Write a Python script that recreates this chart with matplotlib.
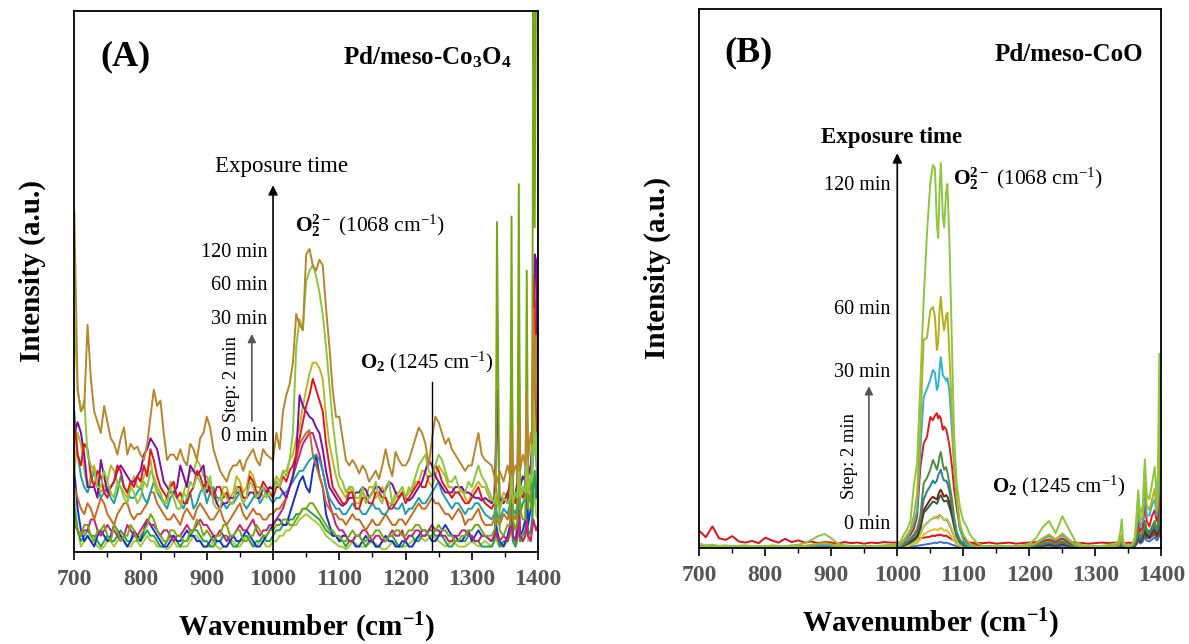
import matplotlib
matplotlib.use("Agg")
import matplotlib.pyplot as plt
from matplotlib.ticker import MultipleLocator

plt.rcParams['font.family'] = ['Liberation Serif', 'DejaVu Serif']
plt.rcParams['mathtext.fontset'] = 'custom'
plt.rcParams['mathtext.rm'] = 'Liberation Serif'
plt.rcParams['mathtext.bf'] = 'Liberation Serif:bold'
plt.rcParams['mathtext.it'] = 'Liberation Serif:italic'

# -------------------------
# PANEL A DATA (Pd/meso-Co3O4), intensity in a.u. (0-100)
# -------------------------
wn_a = list(range(700, 1325, 5)) + [1330, 1334, 1336, 1338, 1342, 1348, 1354, 1358, 1360, 1362, 1366, 1369,
                                     1371, 1373, 1377, 1381, 1383, 1385, 1389, 1391, 1393, 1395, 1397, 1400]

a_brown = [63, 30, 26, 27, 42, 32, 26, 24, 22, 27, 24, 21, 20, 18, 21, 23, 18, 20, 19, 19.5,
           18, 17, 20, 25, 30, 27, 28, 22, 17, 18, 18, 17, 19, 17, 16, 20, 19, 17, 21, 22,
           25, 23, 19, 17, 15, 14, 13, 15, 16, 16, 17, 15, 17, 18, 19, 17, 16, 19, 18, 17.5,
           17, 22, 19, 26, 29, 31, 35, 44, 42, 41, 55, 56, 53, 52, 54, 53, 45, 38, 30, 25,
           25, 21, 17, 16, 17, 16, 14.5, 16, 15, 13, 14, 15, 13.5, 16, 19, 16, 14, 18.5, 17, 16,
           16, 17, 19, 21, 23, 22, 20, 16, 21, 25, 24, 22, 20, 21, 19, 18, 17, 16, 15, 16,
           16, 19, 22, 18, 17,
           16, 14, 12, 13, 15, 13, 16, 14, 22, 14, 16, 15, 24, 15, 18, 16, 30, 17, 22, 20, 45, 28, 40, 20]
a_green60 = [44, 30, 26, 28, 18, 16, 15, 12, 12, 15, 13, 11, 10, 13, 12, 10, 9, 12, 11, 9,
             10, 13, 12, 15, 14, 12, 11, 9, 9, 12, 10, 8, 8, 11, 10, 13, 12, 14, 13, 11,
             12, 14, 9, 8, 8, 11, 10, 9, 9, 12, 11, 9, 10, 13, 12, 10, 11, 12, 10, 11,
             11, 13, 12, 15, 14, 17, 22, 38, 43, 41, 50, 52, 53, 51, 48, 44, 38, 31, 24, 19,
             14, 13, 11, 12, 12, 10, 10, 12, 9, 10, 11, 13, 10, 9, 12, 13, 9, 10, 11, 12,
             10, 11, 12, 14, 16, 17, 18, 15, 14, 16, 18, 17, 15, 13, 13, 14, 12, 11, 11, 13,
             12, 14, 16, 14, 13,
             10, 9, 11, 9, 8, 10, 9, 10, 14, 9, 11, 10, 16, 10, 12, 11, 20, 11, 14, 13, 30, 18, 22, 12]
a_spiky = [6, 4, 3, 5, 5, 3, 2, 4, 4, 5, 3, 2, 5, 4, 2, 3, 3, 5, 4, 2,
           3, 4, 5, 7, 6, 4, 3, 2, 2, 4, 4, 3, 3, 2, 2, 4, 4, 6, 5, 3,
           4, 3, 2, 3, 3, 5, 5, 3, 3, 4, 4, 2, 2, 3, 3, 5, 4, 3, 3, 4,
           4, 5, 5, 6, 6, 5, 5, 6, 7, 8, 8, 9, 9, 8, 7, 6, 5, 4, 4, 3,
           3, 2, 2, 3, 4, 3, 3, 2, 2, 3, 3, 4, 4, 3, 2, 3, 3, 4, 4, 3,
           3, 4, 4, 5, 5, 4, 4, 3, 3, 4, 5, 4, 4, 3, 3, 2, 2, 3, 3, 4,
           4, 5, 5, 4, 3,
           3, 4, 5, 61, 4, 3, 5, 5, 62, 6, 4, 6, 68, 8, 6, 6, 52, 8, 8, 20, 105, 60, 105, 105]
a_olive = [14, 22, 20, 15, 12, 14, 16, 13, 11, 12, 13, 16, 15, 13, 12, 11, 10, 12, 14, 12,
           12, 14, 15, 17, 13, 11, 11, 9, 10, 13, 12, 10, 9, 11, 13, 15, 15, 17, 16, 14,
           14, 12, 11, 9, 10, 12, 12, 10, 11, 14, 13, 11, 12, 15, 14, 12, 12, 10, 11, 12,
           12, 14, 13, 15, 15, 17, 18, 21, 23, 27, 30, 33, 35, 35, 34, 32, 25, 20, 17, 14,
           12, 11, 10, 12, 11, 9, 9, 11, 10, 12, 12, 10, 11, 12, 10, 9, 9, 11, 11, 12,
           10, 12, 11, 13, 13, 15, 15, 13, 12, 14, 16, 15, 14, 12, 12, 11, 11, 12, 10, 9,
           11, 12, 13, 12, 12,
           9, 10, 14, 10, 9, 11, 10, 12, 26, 11, 10, 12, 28, 12, 11, 13, 26, 12, 14, 16, 38, 20, 30, 14]
a_red = [24, 18, 16, 20, 19, 14, 12, 15, 14, 11, 10, 12, 13, 16, 15, 12, 11, 13, 12, 14,
         13, 16, 14, 19, 17, 14, 12, 11, 10, 12, 13, 10, 11, 9, 9, 11, 12, 15, 14, 12,
         13, 11, 10, 12, 12, 10, 11, 9, 9, 12, 12, 10, 10, 14, 13, 11, 11, 13, 12, 11,
         10, 12, 12, 14, 13, 15, 16, 18, 21, 24, 27, 29, 32, 30, 28, 26, 20, 16, 12, 11,
         10, 9, 9, 11, 11, 8, 8, 10, 10, 9, 9, 11, 11, 10, 10, 8, 8, 9, 10, 11,
         9, 10, 11, 12, 13, 12, 12, 14, 14, 16, 15, 13, 12, 11, 10, 11, 11, 10, 9, 9,
         10, 11, 12, 10, 9,
         8, 9, 12, 9, 8, 10, 9, 14, 39, 10, 9, 12, 40, 11, 10, 12, 20, 11, 13, 16, 51, 46, 30, 12]
a_purple = [22, 24, 22, 18, 12, 12, 12, 10, 17, 14, 11, 12, 13, 15, 16, 15, 14, 13, 13, 14,
            15, 18, 19, 21, 20, 19, 16, 13, 12, 11, 11, 12, 16, 14, 12, 16, 15, 14, 15, 16,
            11, 12, 11, 9, 8, 9, 9, 10, 10, 11, 11, 10, 10, 11, 11, 10, 10, 12, 11, 12,
            11.5, 13, 12, 11, 10, 12, 14, 18, 29, 27, 26, 25, 24.5, 23, 22, 19, 15, 12, 11, 10,
            9, 8.5, 9, 10, 10, 11, 11, 12, 11.5, 10, 11, 12, 12, 11, 11.5, 13, 12.5, 11, 10, 11,
            10, 9.5, 10, 11, 12, 13, 15, 17, 16, 14, 13, 12, 11, 11, 11, 12, 12, 12, 11, 11,
            10.5, 10, 10, 9.5, 10,
            9, 10, 18, 30, 10, 9, 11, 12, 24, 10, 11, 13, 22, 12, 14, 13, 28, 14, 16, 20, 40, 55, 54, 20]
a_magenta = [5, 4, 3, 4, 4, 6, 6, 4, 3, 4, 5, 4, 4, 3, 2, 3, 5, 4, 3, 3,
             4, 5, 6, 5, 5, 4, 3, 4, 4, 3, 2, 3, 3, 4, 5, 4, 4, 5, 6, 5,
             5, 4, 3, 3, 4, 3, 2, 3, 3, 4, 5, 4, 4, 5, 6, 4, 3, 4, 4, 5,
             5, 6, 7, 8, 10, 12, 14, 16, 18, 20, 21, 22, 22, 20, 18, 15, 12, 9, 7, 5,
             4, 4, 3, 2, 2, 3, 3, 4, 4, 3, 2, 3, 3, 2, 2, 3, 4, 3, 3, 4,
             2, 3, 3, 4, 4, 3, 3, 4, 5, 4, 4, 3, 3, 2, 2, 3, 3, 4, 4, 3,
             3, 2, 2, 3, 3,
             2, 3, 4, 3, 2, 3, 2, 4, 8, 3, 2, 3, 7, 3, 2, 3, 6, 3, 2, 4, 6, 5, 4, 5]
a_teal = [26, 18, 14, 12, 11, 13, 15, 12, 10, 11, 12, 10, 9, 11, 14, 12, 11, 10, 10, 11,
          12, 10, 9, 11, 13, 11, 10, 9, 8, 10, 11, 10, 9, 8, 10, 11, 8, 9, 11, 12,
          9, 11, 12, 10, 10, 9, 8, 9, 9, 10, 11, 9, 8, 9, 10, 11, 9, 10, 11, 10,
          9, 10, 10, 11, 11, 12, 13, 14, 15, 15, 16, 17, 17.5, 18, 17, 15, 12, 10, 9, 8,
          8, 7, 7, 8, 9, 8, 8, 7, 7, 8, 9, 8, 8, 7, 7, 8, 9, 8, 8, 9,
          7, 8, 8, 9, 10, 9, 9, 10, 11, 12, 13, 11, 10, 9, 8, 9, 9, 8, 7, 8,
          8, 9, 9, 8, 7,
          6, 7, 9, 7, 6, 8, 7, 9, 18, 8, 7, 9, 16, 8, 9, 10, 18, 9, 10, 14, 30, 36, 20, 10]
a_blue = [15, 8, 4, 2, 3, 2, 1, 3, 4, 3, 2, 3, 5, 4, 3, 2, 1, 2, 4, 3,
          2, 4, 6, 5, 4, 3, 2, 1, 1, 2, 3, 2, 2, 3, 4, 3, 3, 2, 2, 1,
          1, 2, 3, 2, 2, 1, 1, 2, 3, 2, 2, 3, 4, 3, 2, 1, 1, 2, 3, 4,
          5, 6, 6, 5, 5, 7, 9, 11, 13, 14, 12, 11, 15, 18, 14, 12, 7, 5, 3, 3,
          2, 3, 3, 2, 2, 1, 1, 2, 3, 2, 2, 1, 1, 2, 3, 2, 2, 1, 1, 2,
          2, 1, 1, 2, 3, 4, 4, 3, 2, 2, 3, 4, 5, 4, 3, 3, 2, 2, 3, 4,
          2, 3, 4, 3, 3,
          2, 3, 6, 4, 2, 1, 3, 5, 12, 3, 2, 5, 10, 3, 4, 6, 16, 5, 8, 14, 24, 29, 20, 8]
a_orange = [12, 10, 8, 7, 9, 8, 6, 8, 10, 9, 7, 6, 5, 7, 8, 9, 9, 7, 6, 7,
            7, 8, 9, 11, 11, 9, 8, 7, 6, 6, 7, 6, 5, 7, 8, 7, 6, 8, 9, 8,
            7, 6, 6, 7, 8, 6, 5, 6, 7, 8, 9, 7, 6, 7, 8, 7, 7, 6, 6, 7,
            7, 8, 8, 9, 10, 12, 14, 17, 20, 21, 22, 22.5, 18, 16, 14, 12, 9, 8, 7, 7,
            6, 6, 5, 6, 7, 6, 6, 5, 4, 5, 6, 5, 5, 6, 7, 6, 5, 5, 6, 6,
            5, 6, 7, 8, 9, 8, 8, 9, 10, 9, 9, 8, 7, 7, 6, 7, 8, 7, 5, 6,
            6, 7, 8, 6, 5,
            5, 6, 8, 6, 5, 7, 6, 8, 16, 7, 6, 8, 20, 7, 9, 10, 22, 9, 11, 15, 35, 30, 25, 10]
a_green = [8, 4, 2, 3, 4, 3, 3, 2, 1, 2, 3, 2, 2, 3, 4, 3, 2, 2, 3, 3,
           2, 3, 4, 3, 3, 2, 1, 1, 2, 3, 3, 2, 1, 2, 2, 3, 4, 4, 3, 2,
           2, 1, 1, 2, 2, 3, 3, 2, 1, 1, 2, 3, 3, 2, 1, 2, 2, 3, 2, 2,
           3, 4, 4, 5, 5, 6, 6, 7, 7, 8, 8, 7.5, 7, 6.5, 6, 5, 4, 3.5, 3, 3,
           2, 2, 1, 2, 2, 3, 3, 2, 1, 2, 2, 1, 1, 2, 2, 3, 3, 2, 1, 1,
           2, 3, 3, 2, 2, 3, 3, 4, 4, 3, 3, 3, 2, 1, 1, 2, 2, 2, 2, 3,
           3, 2, 2, 1, 1,
           1, 2, 5, 3, 1, 2, 2, 4, 9, 2, 1, 3, 8, 2, 3, 4, 9, 3, 4, 6, 12, 15, 10, 14]
a_lime = [10, 4, 1, 2, 3, 2, 2, 1, 0.5, 1, 2, 2, 1, 2, 3, 2, 1, 1, 2, 2,
          1, 2, 3, 2, 2, 1, 1, 1, 0.5, 1, 2, 1, 1, 1, 1, 2, 3, 3, 2, 1,
          1, 1, 2, 1, 0.5, 1, 1, 2, 2, 1, 1, 2, 3, 2, 1, 1, 2, 2, 1, 1,
          2, 2, 3, 3, 4, 4, 5, 5, 6, 6.5, 7, 6.5, 6, 5.5, 5, 4, 3, 2.5, 2, 1.5,
          1, 1, 0.5, 1, 2, 1.5, 1, 1, 1, 1.5, 2, 1.5, 1, 0.5, 0.5, 1, 2, 1.5, 1, 1,
          1, 1.5, 2, 2.5, 3, 2.5, 2, 2.5, 3, 2.5, 2, 1.5, 1, 1.5, 2, 1.5, 1, 1, 1, 1.5,
          2, 1.5, 1, 1.5, 2,
          1, 2, 3, 2, 1, 1, 2, 3, 6, 2, 1, 2, 5, 2, 2, 3, 7, 2, 3, 5, 9, 11, 7, 6]

# -------------------------
# PANEL B DATA (Pd/meso-CoO)
# -------------------------
wn_b = (list(range(700, 1000, 10))
        + [1000, 1005, 1010, 1015, 1020, 1025, 1030, 1035, 1040, 1045, 1050, 1054, 1057, 1060, 1062,
           1064, 1066, 1069, 1071, 1074, 1076, 1079, 1083, 1086, 1090, 1095, 1100, 1105, 1110, 1120]
        + list(range(1130, 1340, 10))
        + [1335, 1338, 1340, 1342, 1346, 1350, 1355, 1360, 1363, 1365, 1368, 1372, 1375, 1378, 1382,
           1386, 1390, 1393, 1395, 1397, 1400])

b_red_noisy = ([3.2, 2, 4, 1.8, 1.5, 2.2, 1.2, 1.0, 1.3, 0.9, 1.9, 1.4, 1.0, 1.7, 1.1, 1.4, 1.0, 1.2, 0.9, 1.1,
                1.0, 0.8, 1.1, 0.9, 1.0, 0.8, 1.0, 0.9, 1.1, 1.0]
               + [1.0, 1.1, 1.0, 1.2, 1.3, 1.5, 1.6, 1.8, 1.9, 2.0, 2.1, 2.3, 2.2, 2.4, 2.3, 2.5, 2.4, 2.3, 2.2,
                  2.3, 2.1, 1.9, 1.6, 1.4, 1.2, 1.0, 1.1, 0.9, 1.0, 0.9]
               + [0.9, 1.0, 0.8, 0.9, 1.0, 0.8, 0.9, 1.0, 1.1, 1.3, 1.4, 1.2, 1.5, 1.2, 1.0, 0.9, 0.8, 0.9, 1.0,
                  0.9, 1.0]
               + [1.0, 1.2, 1.5, 1.0, 0.9, 1.0, 0.9, 1.1, 1.5, 2, 1.5, 1.8, 2.5, 2, 1.8, 2.2, 2.5, 2, 2.2, 3, 2])
b_blue = ([0.1, 0.1, 0.1, 0.1, 0.1, 0.1, 0.1, 0.1, 0.1, 0.1, 0.1, 0.1, 0.1, 0.1, 0.1, 0.1, 0.1, 0.2, 0.2, 0.2,
           0.1, 0.1, 0.1, 0.1, 0.1, 0.1, 0.1, 0.1, 0.1, 0.1]
          + [0.1, 0.1, 0.2, 0.2, 0.3, 0.3, 0.4, 0.5, 0.6, 0.7, 0.8, 0.9, 1.0, 0.9, 1.0, 1.1, 1.1, 1.0, 0.9, 1.0,
             0.9, 0.8, 0.6, 0.5, 0.3, 0.2, 0.1, 0.1, 0.1, 0.1]
          + [0.1, 0.1, 0.1, 0.1, 0.1, 0.1, 0.1, 0.1, 0.2, 0.3, 0.4, 0.3, 0.4, 0.3, 0.1, 0.1, 0.1, 0.1, 0.1, 0.1, 0.1]
          + [0.2, 0.3, 0.5, 0.2, 0.1, 0.1, 0.1, 0.3, 0.8, 1.5, 0.8, 1.2, 2, 1.4, 1.2, 1.6, 2, 1.4, 1.6, 3, 1.5])
b_yellow = ([0.1, 0.2, 0.1, 0.1, 0.2, 0.1, 0.1, 0.2, 0.1, 0.1, 0.2, 0.1, 0.1, 0.2, 0.1, 0.1, 0.2, 0.3, 0.4, 0.4,
             0.3, 0.2, 0.1, 0.1, 0.2, 0.1, 0.1, 0.2, 0.1, 0.1]
            + [0.1, 0.2, 0.2, 0.3, 0.5, 0.7, 0.9, 1.6, 2.5, 2.9, 3.2, 3.4, 3.5, 3.4, 3.3, 3.6, 3.7, 3.5, 3.2,
               3.3, 3.2, 2.7, 1.9, 1.3, 0.7, 0.4, 0.2, 0.2, 0.1, 0.1]
            + [0.1, 0.1, 0.1, 0.2, 0.1, 0.1, 0.1, 0.2, 0.5, 0.9, 1.3, 0.9, 1.4, 0.8, 0.3, 0.1, 0.1, 0.1, 0.1, 0.2,
               0.2]
            + [0.3, 0.6, 1, 0.3, 0.2, 0.1, 0.2, 0.6, 1.8, 3.2, 1.8, 2.6, 4.5, 3, 2.5, 3.4, 4, 2.8, 3.5, 7, 3.5])
b_red_small = ([0.3, 0.2, 0.3, 0.2, 0.3, 0.2, 0.2, 0.3, 0.2, 0.2, 0.3, 0.2, 0.3, 0.2, 0.2, 0.3, 0.2, 0.3, 0.3,
                0.4, 0.3, 0.2, 0.3, 0.2, 0.2, 0.3, 0.2, 0.3, 0.2, 0.3]
               + [0.2, 0.3, 0.4, 0.6, 0.8, 1.1, 1.5, 2.6, 4, 4.6, 5.2, 5.5, 5.6, 5.8, 5.6, 6.1, 6, 5.5, 5.2, 5.3,
                  5, 4.3, 3.1, 2.2, 1.2, 0.7, 0.4, 0.3, 0.2, 0.2]
               + [0.2, 0.3, 0.2, 0.2, 0.3, 0.2, 0.3, 0.4, 0.6, 0.9, 1.2, 0.8, 1.3, 0.8, 0.4, 0.3, 0.2, 0.2, 0.3,
                  0.2, 0.3]
               + [0.4, 0.8, 1.2, 0.4, 0.3, 0.2, 0.3, 0.7, 2, 3.5, 2, 2.8, 5, 3.2, 2.8, 3.8, 4.5, 3, 4, 8, 4])
b_lgreen_small = ([0.2, 0.1, 0.2, 0.1, 0.1, 0.2, 0.1, 0.2, 0.1, 0.1, 0.2, 0.1, 0.1, 0.2, 0.1, 0.2, 0.3, 0.5, 0.7,
                   0.8, 0.5, 0.3, 0.2, 0.1, 0.2, 0.1, 0.1, 0.2, 0.1, 0.2]
                  + [0.1, 0.2, 0.3, 0.5, 0.7, 1, 1.4, 2.5, 4, 4.6, 5.2, 5.6, 5.8, 5.5, 5.4, 5.8, 6, 5.6, 5.2,
                     5.4, 5.3, 4.6, 3.4, 2.4, 1.3, 0.7, 0.4, 0.2, 0.1, 0.1]
                  + [0.1, 0.1, 0.2, 0.1, 0.1, 0.1, 0.2, 0.3, 0.6, 1.0, 1.4, 0.9, 1.6, 0.9, 0.4, 0.2, 0.1, 0.1,
                     0.2, 0.1, 0.2]
                  + [0.3, 0.6, 1.0, 0.3, 0.2, 0.1, 0.2, 0.5, 1.2, 2.4, 1.2, 1.8, 3.2, 2.2, 1.8, 2.5, 3, 2, 2.5, 5,
                     2.5])
b_slate = ([0.1, 0.1, 0.2, 0.1, 0.1, 0.2, 0.1, 0.1, 0.2, 0.1, 0.1, 0.2, 0.1, 0.1, 0.2, 0.1, 0.1, 0.2, 0.2, 0.3,
            0.2, 0.1, 0.1, 0.2, 0.1, 0.1, 0.2, 0.1, 0.1, 0.2]
           + [0.1, 0.2, 0.4, 0.7, 1, 1.4, 2, 3.5, 6.5, 7.2, 8, 8.6, 8.5, 8.2, 8.8, 9.5, 9.8, 9, 8.6, 8.8,
              8.6, 7.6, 5.8, 4, 2.2, 1, 0.5, 0.3, 0.2, 0.1]
           + [0.1, 0.1, 0.1, 0.1, 0.2, 0.1, 0.1, 0.2, 0.3, 0.4, 0.6, 0.4, 0.7, 0.4, 0.2, 0.1, 0.1, 0.1, 0.1, 0.1,
              0.2]
           + [0.2, 0.4, 0.7, 0.2, 0.1, 0.1, 0.2, 0.4, 1, 2, 1, 1.8, 3, 2, 1.8, 2.5, 3, 2, 2.5, 4.5, 2])
b_maroon = ([0.1, 0.2, 0.1, 0.1, 0.2, 0.1, 0.1, 0.2, 0.1, 0.1, 0.2, 0.1, 0.1, 0.2, 0.1, 0.1, 0.2, 0.2, 0.3, 0.3,
             0.2, 0.1, 0.1, 0.2, 0.1, 0.1, 0.2, 0.1, 0.1, 0.2]
            + [0.1, 0.2, 0.5, 0.8, 1.2, 1.6, 2.2, 4, 7, 8, 9, 9.5, 9.2, 9, 9.8, 10.5, 10.8, 10, 9.5, 9.8,
               9.5, 8.5, 6.5, 4.5, 2.5, 1.2, 0.6, 0.3, 0.2, 0.1]
            + [0.1, 0.1, 0.1, 0.2, 0.1, 0.1, 0.1, 0.2, 0.3, 0.5, 0.7, 0.5, 0.8, 0.5, 0.2, 0.1, 0.1, 0.1, 0.1, 0.2,
               0.2]
            + [0.2, 0.5, 0.8, 0.3, 0.1, 0.1, 0.2, 0.4, 1.2, 2.5, 1.2, 2, 3.5, 2.5, 2, 3, 3.5, 2.5, 3, 5, 2.5])
b_teal = ([0.2, 0.1, 0.1, 0.2, 0.1, 0.1, 0.2, 0.1, 0.1, 0.2, 0.1, 0.1, 0.2, 0.1, 0.1, 0.2, 0.1, 0.2, 0.3, 0.3,
           0.2, 0.1, 0.1, 0.2, 0.1, 0.1, 0.2, 0.1, 0.1, 0.2]
          + [0.1, 0.3, 0.6, 1, 1.5, 2, 3, 5, 9, 10.5, 11.5, 12.5, 12, 12.5, 13.5, 14, 14.5, 13, 12.5, 12.5,
             12, 10.5, 7.5, 5, 2.5, 1.2, 0.6, 0.3, 0.2, 0.1]
          + [0.1, 0.1, 0.2, 0.1, 0.1, 0.2, 0.1, 0.2, 0.4, 0.6, 0.9, 0.6, 1.0, 0.6, 0.2, 0.1, 0.1, 0.2, 0.1, 0.2, 0.2]
          + [0.3, 0.6, 1, 0.3, 0.2, 0.1, 0.2, 0.5, 1.5, 3, 1.5, 2.5, 4, 3, 2.5, 3.5, 4, 3, 3.5, 6, 3])
b_dgreen = ([0.3, 0.2, 0.2, 0.1, 0.2, 0.2, 0.1, 0.2, 0.2, 0.1, 0.2, 0.2, 0.1, 0.2, 0.2, 0.1, 0.2, 0.3, 0.4, 0.4,
             0.3, 0.2, 0.1, 0.2, 0.2, 0.1, 0.2, 0.2, 0.1, 0.2]
            + [0.2, 0.4, 0.8, 1.2, 1.8, 2.5, 3.5, 6, 12, 13, 14.5, 16.3, 15.5, 14.5, 15.5, 17, 17.8, 15.5, 14.5,
               15, 14, 12, 9, 5.8, 3, 1.5, 0.8, 0.5, 0.3, 0.2]
            + [0.2, 0.1, 0.2, 0.2, 0.1, 0.2, 0.2, 0.3, 0.5, 0.8, 1.1, 0.8, 1.2, 0.7, 0.3, 0.2, 0.1, 0.2, 0.2, 0.2,
               0.3]
            + [0.4, 0.8, 1.2, 0.4, 0.2, 0.2, 0.3, 0.7, 2, 3.5, 2, 3, 5, 3.5, 3, 4, 5, 3.5, 4, 8.4, 4])
b_red = ([0.4, 0.3, 0.4, 0.3, 0.2, 0.3, 0.4, 0.3, 0.2, 0.3, 0.4, 0.3, 0.2, 0.3, 0.4, 0.3, 0.3, 0.4, 0.5, 0.5,
          0.4, 0.3, 0.3, 0.2, 0.3, 0.4, 0.3, 0.2, 0.3, 0.4]
         + [0.5, 0.8, 1.2, 1.8, 2.5, 3.5, 5.8, 15, 19.4, 20.6, 24.3, 23.7, 24.5, 25, 24, 24.5, 24, 21.9, 22.5, 22,
            21, 19, 15, 11, 7.5, 3.5, 2, 1.2, 0.8, 0.6]
         + [0.3, 0.4, 0.3, 0.3, 0.4, 0.3, 0.4, 0.5, 0.8, 1.2, 1.6, 1.1, 1.8, 1.0, 0.5, 0.3, 0.4, 0.3, 0.3, 0.4, 0.5]
         + [0.6, 1.2, 1.8, 0.6, 0.4, 0.3, 0.4, 1, 3, 5, 3, 4, 8, 5, 4, 6, 7, 5, 6, 12, 6])
b_cyan30 = ([0.2, 0.3, 0.2, 0.2, 0.3, 0.2, 0.2, 0.2, 0.3, 0.2, 0.2, 0.3, 0.2, 0.2, 0.3, 0.2, 0.3, 0.4, 0.5, 0.6,
             0.4, 0.3, 0.2, 0.2, 0.3, 0.2, 0.2, 0.3, 0.2, 0.3]
            + [0.2, 0.6, 1.2, 2, 3, 4.5, 7, 18.2, 28, 29.5, 31.2, 33, 32.5, 29.3, 30, 33, 35.4, 32, 31.7, 31,
               31.5, 29, 21.3, 15, 9, 3.5, 1.5, 0.8, 0.3, 0.2]
            + [0.2, 0.2, 0.2, 0.3, 0.2, 0.2, 0.3, 0.4, 0.8, 1.5, 2.2, 1.4, 2.4, 1.3, 0.5, 0.3, 0.2, 0.2, 0.2, 0.3,
               0.3]
            + [0.5, 1.2, 2, 0.6, 0.3, 0.3, 0.4, 1.2, 4, 7, 4, 5, 11, 6, 6, 8, 9, 6, 8, 15, 7])
b_olive60 = ([0.3, 0.2, 0.3, 0.2, 0.2, 0.3, 0.2, 0.2, 0.3, 0.2, 0.3, 0.2, 0.2, 0.3, 0.2, 0.3, 0.4, 0.6, 0.8, 0.9,
              0.7, 0.4, 0.3, 0.2, 0.2, 0.3, 0.2, 0.2, 0.3, 0.3]
             + [0.3, 0.8, 1.5, 2.5, 3.5, 6, 10, 23, 38.6, 39, 44, 44.7, 43, 36.7, 38, 44, 46.6, 42, 40.4, 43,
                43.6, 36, 24.3, 16, 9.5, 4.5, 2.5, 1.5, 0.8, 0.3]
             + [0.2, 0.2, 0.3, 0.2, 0.2, 0.3, 0.3, 0.4, 0.9, 1.8, 2.5, 1.6, 2.7, 1.6, 0.6, 0.3, 0.2, 0.2, 0.3, 0.3,
                0.4]
             + [0.6, 1.5, 2.5, 0.8, 0.4, 0.3, 0.4, 1.5, 5, 10, 5, 6, 15, 8, 7, 9, 11, 7, 10, 22, 9])
b_lgreen120 = ([0.8, 0.5, 0.6, 0.4, 0.5, 0.3, 0.4, 0.5, 0.3, 0.4, 0.3, 0.5, 0.4, 0.3, 0.5, 0.6, 0.9, 1.5, 2.2,
                2.6, 1.8, 0.8, 0.5, 0.4, 0.3, 0.4, 0.3, 0.4, 0.5, 0.6]
               + [0.6, 1.2, 2.5, 3.5, 5, 11.5, 15.7, 30.6, 46, 58.4, 67.7, 71, 70.5, 60, 57.5, 66, 71.4, 61.4,
                  59.5, 66, 67.5, 57, 36.7, 21, 12, 7.5, 5, 4, 2.5, 1]
               + [0.4, 0.3, 0.4, 0.3, 0.4, 0.3, 0.5, 0.8, 1.8, 3.8, 5, 2.7, 5.9, 3.5, 1.2, 0.5, 0.4, 0.3, 0.4,
                  0.6, 0.8]
               + [1.2, 3, 5.3, 1.5, 0.6, 0.5, 0.6, 2, 7, 10.7, 6, 8, 16.4, 10, 9, 12, 15, 9, 14, 36, 12])

# series order (drawn first -> last) with colours
series_a = [(a_lime, '#a8c936'), (a_green, '#23a347'), (a_blue, '#1431cf'), (a_magenta, '#c81f7c'),
            (a_orange, '#ca6a20'), (a_teal, '#1e9ea7'), (a_olive, '#b9b624'), (a_purple, '#7b0fa5'),
            (a_red, '#e3161b'), (a_spiky, '#76a813'), (a_green60, '#8cc63e'), (a_brown, '#b8862b')]
series_b = [(b_blue, '#3c6fd4'), (b_red_noisy, '#e0101a'), (b_yellow, '#d9c41f'), (b_red_small, '#ef4a3f'),
            (b_lgreen_small, '#a6d55e'), (b_slate, '#2f5d48'), (b_maroon, '#7b1d10'), (b_teal, '#2a7f97'),
            (b_dgreen, '#4f8c3b'), (b_red, '#e31a1c'), (b_cyan30, '#2bb5d3'), (b_olive60, '#b5b019'),
            (b_lgreen120, '#8dc63f')]

fig = plt.figure(figsize=(11.89, 6.44), dpi=100)
ax_a = fig.add_axes([0.0625, 0.1429, 0.390, 0.840])
ax_b = fig.add_axes([0.5881, 0.1491, 0.3886, 0.8374])


def style_axis(ax):
    ax.set_xlim(700, 1400)
    ax.set_ylim(0, 100)
    ax.set_yticks([])
    ax.xaxis.set_major_locator(MultipleLocator(100))
    ax.xaxis.set_minor_locator(MultipleLocator(50))
    ax.tick_params(axis='x', which='major', direction='out', length=6, width=1.2,
                   labelsize=17, labelcolor='#555555', pad=6)
    ax.tick_params(axis='x', which='minor', direction='out', length=3.5, width=1.0)
    for lab in ax.get_xticklabels():
        lab.set_fontweight('bold')
    for sp in ax.spines.values():
        sp.set_linewidth(1.3)
    ax.text(-0.09, 0.52, 'Intensity (a.u.)', transform=ax.transAxes, rotation=90,
            ha='center', va='center', fontsize=21, fontweight='bold')
    ax.text(0.5, -0.14, 'Wavenumber (cm$^{\\mathbf{-1}}$)', transform=ax.transAxes,
            ha='center', va='center', fontsize=21, fontweight='bold')


def arrow(ax, x, y0, y1, color, lw, ms):
    ax.annotate('', xy=(x, y1), xytext=(x, y0),
                arrowprops=dict(arrowstyle='-|>', color=color, lw=lw, mutation_scale=ms,
                                shrinkA=0, shrinkB=0))


# -------------------------
# PANEL A
# -------------------------
for vals, col in series_a:
    ax_a.plot(wn_a, vals, color=col, lw=1.4)
style_axis(ax_a)
ax_a.text(777, 91.5, '(A)', ha='center', va='center', fontsize=26, fontweight='bold')
ax_a.text(1360, 91.5, 'Pd/meso-Co$_\\mathbf{3}$O$_\\mathbf{4}$', ha='right', va='center',
          fontsize=18, fontweight='bold')
arrow(ax_a, 1000, 0, 67.8, 'black', 1.2, 14)
ax_a.text(1013, 71.3, 'Exposure time', ha='center', va='center', fontsize=16.5)
for lbl, yy in [('120 min', 55.3), ('60 min', 49.2), ('30 min', 43.0), ('0 min', 21.3)]:
    ax_a.text(992, yy, lbl, ha='right', va='center', fontsize=14.5)
ax_a.text(938, 32, 'Step: 2 min', rotation=90, ha='center', va='center', fontsize=13.4)
arrow(ax_a, 968, 24.2, 40.3, '#555555', 1.2, 12)
ax_a.text(1033, 60.4, '$\\mathbf{O_2^{2-}}$ (1068 cm$^{-1}$)', ha='left', va='center', fontsize=15.5)
ax_a.text(1132, 35, '$\\mathbf{O_2}$ (1245 cm$^{-1}$)', ha='left', va='center', fontsize=15)
ax_a.plot([1240, 1240], [0, 31.4], color='black', lw=1.0)

# -------------------------
# PANEL B
# -------------------------
for vals, col in series_b:
    ax_b.plot(wn_b, vals, color=col, lw=1.4)
style_axis(ax_b)
ax_b.text(774, 91.8, '(B)', ha='center', va='center', fontsize=26, fontweight='bold')
ax_b.text(1372, 91.5, 'Pd/meso-CoO', ha='right', va='center', fontsize=18, fontweight='bold')
arrow(ax_b, 1000, 0, 73.2, 'black', 1.2, 14)
ax_b.text(992, 76.2, 'Exposure time', ha='center', va='center', fontsize=16.5, fontweight='bold')
for lbl, yy in [('120 min', 67.3), ('60 min', 44.3), ('30 min', 32.6), ('0 min', 4.3)]:
    ax_b.text(990, yy, lbl, ha='right', va='center', fontsize=14.5)
ax_b.text(928, 17, 'Step: 2 min', rotation=90, ha='center', va='center', fontsize=13.4)
arrow(ax_b, 957, 6.1, 30, '#555555', 1.2, 12)
ax_b.text(1084, 68.4, '$\\mathbf{O_2^{2-}}$ (1068 cm$^{-1}$)', ha='left', va='center', fontsize=15.5)
ax_b.text(1143, 11.5, '$\\mathbf{O_2}$ (1245 cm$^{-1}$)', ha='left', va='center', fontsize=15)

fig.savefig('out.png', dpi=100)
